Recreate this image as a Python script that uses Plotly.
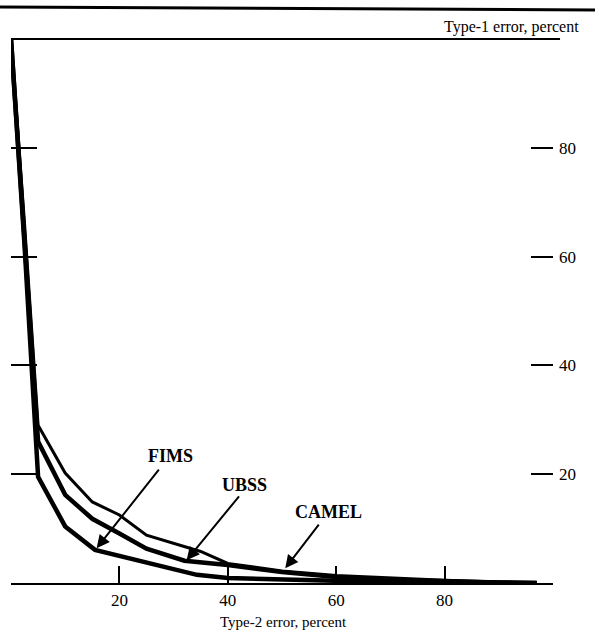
import plotly.graph_objects as go

# ---- data ----
camel_x = [0, 2.5, 5, 10, 15, 20, 25, 35, 40, 50, 60, 70, 80, 90, 97]
camel_y = [100, 66, 29, 20.2, 14.9, 12.5, 8.8, 5.8, 3.6, 2.2, 1.4, 0.9, 0.5, 0.2, 0]

ubss_x = [0, 2.5, 5, 10, 15, 20, 25, 32, 40, 50, 60, 70, 80, 90, 97]
ubss_y = [100, 64, 26, 16.2, 11.8, 9.1, 6.3, 4.1, 3.3, 2.0, 1.1, 0.6, 0.3, 0.1, 0]

fims_x = [0, 2.5, 5, 10, 15.5, 25, 34.3, 40, 50, 60, 70, 80, 90, 97]
fims_y = [100, 62, 19.5, 10.4, 6.1, 3.7, 1.5, 0.9, 0.6, 0.4, 0.25, 0.1, 0.05, 0]

x_ticks = [0, 20, 40, 60, 80, 100]
x_tick_text = ["", "20", "40", "60", "80", ""]
y_ticks = [20, 40, 60, 80]

labels = ["FIMS", "UBSS", "CAMEL"]
label_x = [29.5, 43.0, 58.5]
label_y = [23.3, 18.0, 13.1]
arrow_tail_x = [27.5, 42.3, 57.0]
arrow_tail_y = [21.1, 16.2, 11.0]
arrow_tip_x = [15.8, 32.4, 50.6]
arrow_tip_y = [6.4, 4.2, 2.7]

SERIF = "Liberation Serif, Times New Roman, serif"

fig = go.Figure()
fig.add_trace(go.Scatter(x=camel_x, y=camel_y, mode="lines", name="CAMEL",
                         line=dict(color="black", width=3), hoverinfo="skip"))
fig.add_trace(go.Scatter(x=ubss_x, y=ubss_y, mode="lines", name="UBSS",
                         line=dict(color="black", width=4.5), hoverinfo="skip"))
fig.add_trace(go.Scatter(x=fims_x, y=fims_y, mode="lines", name="FIMS",
                         line=dict(color="black", width=4.5), hoverinfo="skip"))
# helper trace so the right-hand axis is drawn
fig.add_trace(go.Scatter(x=[None], y=[None], yaxis="y2", mode="lines",
                         showlegend=False, hoverinfo="skip"))

annotations = []
for t, lx, ly in zip(labels, label_x, label_y):
    annotations.append(dict(x=lx, y=ly, xref="x", yref="y", text=f"<b>{t}</b>",
                            showarrow=False, font=dict(family=SERIF, size=18, color="black"),
                            xanchor="center", yanchor="middle"))
for tx, ty, hx, hy in zip(arrow_tail_x, arrow_tail_y, arrow_tip_x, arrow_tip_y):
    annotations.append(dict(x=hx, y=hy, ax=tx, ay=ty, xref="x", yref="y",
                            axref="x", ayref="y", text="", showarrow=True,
                            arrowhead=2, arrowsize=1.3, arrowwidth=2, arrowcolor="black"))
annotations.append(dict(x=0.924, y=1.022, xref="paper", yref="paper",
                        text="Type-1 error, percent", showarrow=False,
                        font=dict(family=SERIF, size=16, color="black"),
                        xanchor="center", yanchor="middle"))
annotations.append(dict(x=0.502, y=-0.071, xref="paper", yref="paper",
                        text="Type-2 error, percent", showarrow=False,
                        font=dict(family=SERIF, size=15, color="black"),
                        xanchor="center", yanchor="middle"))

shapes = [
    # frame line at top of the plot
    dict(type="line", xref="paper", yref="paper", x0=0.0, x1=1.013, y0=1.0, y1=1.0,
         line=dict(color="black", width=2)),
    # page rule at very top
    dict(type="line", xref="paper", yref="paper", x0=-0.021, x1=1.078, y0=1.0588, y1=1.0533,
         line=dict(color="black", width=3)),
]

fig.update_layout(
    width=595, height=631,
    margin=dict(l=11, r=42, t=39, b=48),
    paper_bgcolor="white", plot_bgcolor="white",
    showlegend=False,
    font=dict(family=SERIF, color="black"),
    xaxis=dict(range=[0, 100], tickvals=x_ticks, ticktext=x_tick_text,
               ticks="inside", ticklen=17, tickwidth=2, tickcolor="black",
               showline=True, linewidth=2, linecolor="black",
               showgrid=False, zeroline=False,
               tickfont=dict(family=SERIF, size=17, color="black"),
               ticklabelstandoff=1),
    yaxis=dict(range=[0, 100], tickvals=y_ticks, showticklabels=False,
               ticks="inside", ticklen=26, tickwidth=2, tickcolor="black",
               showline=False, showgrid=False, zeroline=False),
    yaxis2=dict(range=[0, 100], overlaying="y", side="right", anchor="x",
                tickvals=y_ticks, ticks="inside", ticklen=22, tickwidth=1.5,
                tickcolor="black", showline=False, showgrid=False, zeroline=False,
                tickfont=dict(family=SERIF, size=17, color="black"),
                ticklabelstandoff=5),
    annotations=annotations,
    shapes=shapes,
)

fig.write_html("out.html")
